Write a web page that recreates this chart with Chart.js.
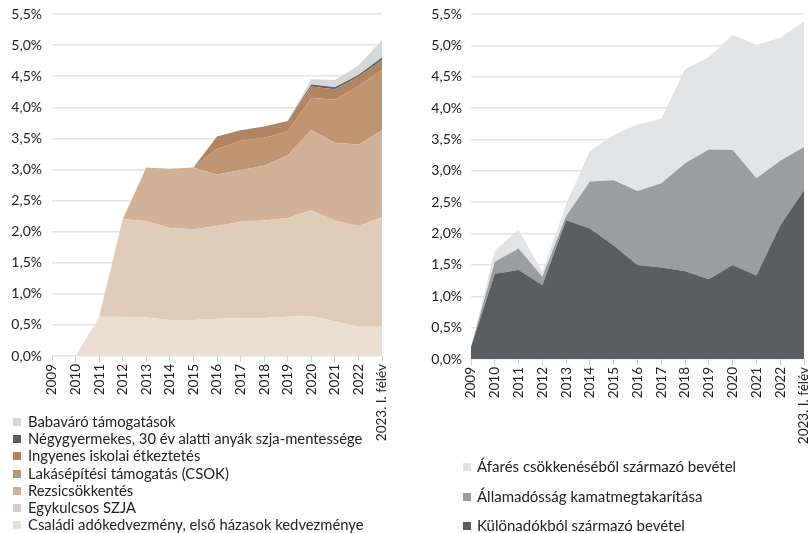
<!DOCTYPE html>
<html lang="hu">
<head>
<meta charset="utf-8">
<script src="https://cdn.jsdelivr.net/npm/chart.js@4/dist/chart.umd.min.js"></script>
<style>
  html, body { margin: 0; padding: 0; background: #fff; }
  body { width: 808px; height: 533px; position: relative; overflow: hidden; font-family: Lato, "Open Sans", sans-serif; color: #222; }
  .box { position: absolute; top: 0; height: 460px; }
  #leftBox { left: 0; width: 400px; }
  #rightBox { left: 404px; width: 404px; }
  .legend { position: absolute; margin: 0; padding: 0; list-style: none; }
  .legend li { position: relative; padding-left: 15px; white-space: nowrap; }
  .legend li span { position: absolute; left: 0; width: 8px; height: 8px; }
  #leftLegend { left: 13px; top: 413px; font-size: 14.8px; }
  #leftLegend li { height: 17.2px; line-height: 17.2px; }
  #leftLegend li span { top: 5px; }
  #rightLegend { left: 463px; top: 452px; font-size: 15px; }
  #rightLegend li { height: 29.5px; line-height: 29.5px; padding-left: 14px; }
  #rightLegend li span { top: 11px; }
</style>
</head>
<body>
<div class="box" id="leftBox"><canvas id="leftChart"></canvas></div>
<div class="box" id="rightBox"><canvas id="rightChart"></canvas></div>
<ul class="legend" id="leftLegend"></ul>
<ul class="legend" id="rightLegend"></ul>
<script>
// category labels (shared by both panels)
const years = ['2009', '2010', '2011', '2012', '2013', '2014', '2015', '2016', '2017', '2018', '2019', '2020', '2021', '2022', '2023. I. félév']

// left panel, % of GDP, stacked bottom -> top
const csaladi   = [0, 0, 0.63, 0.63, 0.62, 0.58, 0.58, 0.60, 0.61, 0.61, 0.63, 0.645, 0.56, 0.47, 0.47]
const egykulcs  = [0, 0, 0, 1.57, 1.55, 1.48, 1.46, 1.49, 1.55, 1.57, 1.59, 1.70, 1.62, 1.62, 1.76]
const rezsi     = [0, 0, 0, 0, 0.86, 0.95, 0.99, 0.83, 0.83, 0.88, 1.01, 1.29, 1.25, 1.31, 1.40]
const csok      = [0, 0, 0, 0, 0, 0, 0, 0.41, 0.47, 0.45, 0.38, 0.52, 0.69, 0.94, 0.97]
const etkeztet  = [0, 0, 0, 0, 0, 0, 0, 0.20, 0.17, 0.18, 0.17, 0.18, 0.17, 0.15, 0.16]
const negygyer  = [0, 0, 0, 0, 0, 0, 0, 0, 0, 0, 0, 0.03, 0.03, 0.03, 0.04]
const babavaro  = [0, 0, 0, 0, 0, 0, 0, 0, 0, 0, 0, 0.09, 0.12, 0.15, 0.28]

// right panel, stacked bottom -> top
const kulonado  = [0.19, 1.36, 1.42, 1.18, 2.21, 2.08, 1.81, 1.50, 1.46, 1.40, 1.27, 1.50, 1.33, 2.13, 2.69]
const kamat     = [0, 0.19, 0.34, 0.13, 0.07, 0.75, 1.04, 1.18, 1.34, 1.72, 2.07, 1.83, 1.55, 1.03, 0.69]
const afares    = [0, 0.18, 0.30, 0.08, 0.19, 0.49, 0.72, 1.06, 1.03, 1.50, 1.47, 1.84, 2.13, 1.96, 2.00]

const leftSeries = [
  { label: 'Családi adókedvezmény, első házasok kedvezménye', data: csaladi, color: '#ebdfd3' },
  { label: 'Egykulcsos SZJA', data: egykulcs, color: '#dfcbb9' },
  { label: 'Rezsicsökkentés', data: rezsi, color: '#d1b298' },
  { label: 'Lakásépítési támogatás (CSOK)', data: csok, color: '#bf9571' },
  { label: 'Ingyenes iskolai étkeztetés', data: etkeztet, color: '#b08560' },
  { label: 'Négygyermekes, 30 év alatti anyák szja-mentessége', data: negygyer, color: '#5b5f63' },
  { label: 'Babaváró támogatások', data: babavaro, color: '#d4d8da' }
]
const rightSeries = [
  { label: 'Különadókból származó bevétel', data: kulonado, color: '#5b5e61' },
  { label: 'Államadósság kamatmegtakarítása', data: kamat, color: '#9b9ea1' },
  { label: 'Áfarés csökkenéséből származó bevétel', data: afares, color: '#e3e4e6' }
]

const FONT = 'Lato, "Open Sans", sans-serif'

function noPad(sc) { sc.paddingLeft = 0; sc.paddingRight = 0; sc.paddingTop = 0; sc.paddingBottom = 0 }

function makeChart(id, series, yWidth, yPad, padRight, plotBottom, boxH) {
  const ctx = document.getElementById(id).getContext('2d')
  const datasets = series.map((s, i) => ({
    label: s.label, data: s.data,
    backgroundColor: s.color, borderColor: s.color, borderWidth: 0,
    pointRadius: 0, tension: 0, fill: i === 0 ? 'origin' : '-1'
  }))
  // eslint-disable-next-line no-undef
  return new Chart(ctx, {
    type: 'line',
    data: { labels: years, datasets },
    options: {
      responsive: true, maintainAspectRatio: false, animation: false,
      layout: { autoPadding: false, padding: { top: 14, right: padRight, left: 0, bottom: 0 } },
      plugins: { legend: { display: false }, tooltip: { enabled: false } },
      scales: {
        x: {
          offset: false,
          grid: { drawOnChartArea: false, drawTicks: true, tickLength: 6, color: '#d0d0d0' },
          border: { display: false },
          ticks: { minRotation: 90, maxRotation: 90, autoSkip: false, padding: 2, color: '#222', font: { family: FONT, size: 13.5 } },
          afterFit: (sc) => { sc.height = boxH - plotBottom; noPad(sc) }
        },
        y: {
          stacked: true, min: 0, max: 5.5,
          grid: { color: '#e4e4e4', lineWidth: 1.5, drawTicks: false },
          border: { display: false },
          ticks: { stepSize: 0.5, padding: yPad, color: '#222', font: { family: FONT, size: 14 },
            callback: (v) => v.toFixed(1).replace('.', ',') + '%' },
          afterFit: (sc) => { sc.width = yWidth; noPad(sc) }
        }
      }
    }
  })
}

function fillLegend(id, series) {
  const ul = document.getElementById(id)
  series.slice().reverse().forEach((s) => {
    const li = document.createElement('li')
    const sw = document.createElement('span'); sw.style.background = s.color
    li.appendChild(sw); li.appendChild(document.createTextNode(s.label))
    ul.appendChild(li)
  })
}

makeChart('leftChart', leftSeries, 52, 10, 18, 356, 460)
makeChart('rightChart', rightSeries, 67, 9, 4, 359, 460)
fillLegend('leftLegend', leftSeries)
fillLegend('rightLegend', rightSeries)
</script>
</body>
</html>
